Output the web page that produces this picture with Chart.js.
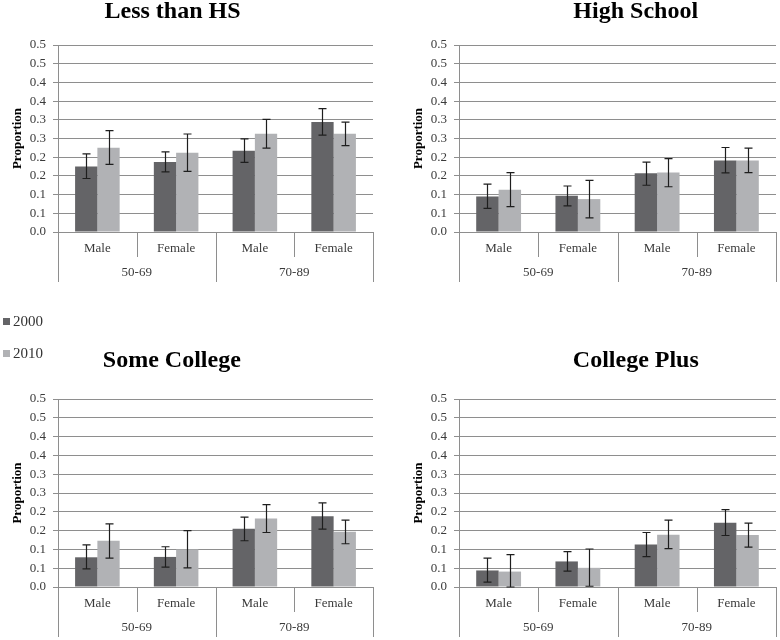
<!DOCTYPE html>
<html>
<head>
<meta charset="utf-8">
<title>Proportion by age group, sex and education</title>
<script src="https://cdn.jsdelivr.net/npm/chart.js@4.4.1/dist/chart.umd.min.js"></script>
<style>
    body { margin: 0; background: #fff; }
    .page { position: relative; width: 780px; height: 640px; overflow: hidden; }
    .page canvas { position: absolute; }
    .sw { position: absolute; width: 7px; height: 7px; }
    .key {
        position: absolute;
        font-family: 'Liberation Serif', 'Times New Roman', serif;
        font-size: 15px;
        line-height: 16px;
        color: #333;
    }
</style>
</head>
<body>
<div class="page" id="page">
    <canvas id="c1" width="390" height="300" style="left:0;top:0"></canvas>
    <canvas id="c2" width="379" height="300" style="left:401px;top:0"></canvas>
    <canvas id="c3" width="390" height="310" style="left:0;top:330px"></canvas>
    <canvas id="c4" width="379" height="310" style="left:401px;top:330px"></canvas>
</div>

<script>
    // ---- data ----
    var categories = ['Male', 'Female', 'Male', 'Female'];
    var ageGroups = ['50-69', '70-89'];
    var seriesNames = ['2000', '2010'];
    var titles = ['Less than HS', 'High School', 'Some College', 'College Plus'];
    var yTickLabels = ['0.0', '0.1', '0.1', '0.2', '0.2', '0.3', '0.3', '0.4', '0.4', '0.5', '0.5'];

    // Less than HS
    var lessHS2000   = [0.175, 0.187, 0.217, 0.294];
    var lessHS2000Lo = [0.143, 0.161, 0.186, 0.259];
    var lessHS2000Hi = [0.209, 0.214, 0.249, 0.330];
    var lessHS2010   = [0.225, 0.212, 0.263, 0.263];
    var lessHS2010Lo = [0.181, 0.162, 0.224, 0.231];
    var lessHS2010Hi = [0.271, 0.262, 0.301, 0.294];

    // High School
    var hs2000   = [0.095, 0.097, 0.157, 0.191];
    var hs2000Lo = [0.063, 0.070, 0.125, 0.158];
    var hs2000Hi = [0.128, 0.123, 0.187, 0.226];
    var hs2010   = [0.113, 0.088, 0.159, 0.191];
    var hs2010Lo = [0.068, 0.038, 0.121, 0.159];
    var hs2010Hi = [0.159, 0.138, 0.196, 0.224];

    // Some College
    var someCol2000   = [0.079, 0.080, 0.155, 0.188];
    var someCol2000Lo = [0.048, 0.053, 0.123, 0.154];
    var someCol2000Hi = [0.112, 0.107, 0.186, 0.224];
    var someCol2010   = [0.123, 0.100, 0.182, 0.147];
    var someCol2010Lo = [0.077, 0.051, 0.145, 0.115];
    var someCol2010Hi = [0.168, 0.150, 0.219, 0.178];

    // College Plus
    var colPlus2000   = [0.044, 0.068, 0.113, 0.171];
    var colPlus2000Lo = [0.013, 0.042, 0.081, 0.137];
    var colPlus2000Hi = [0.077, 0.094, 0.145, 0.206];
    var colPlus2010   = [0.041, 0.051, 0.139, 0.138];
    var colPlus2010Lo = [0.000, 0.002, 0.102, 0.106];
    var colPlus2010Hi = [0.086, 0.101, 0.178, 0.170];

    // ---- style ----
    var FONT = "'Liberation Serif', 'Times New Roman', serif";
    var DARK = '#646467';
    var LIGHT = '#b1b2b5';
    var GRID = '#8e8e8e';
    var TEXT = '#3a3a3a';

    // error bars, drawn at each bar's x from the y scale
    var errorBars = {
        id: 'errorBars',
        afterDatasetsDraw: function(chart) {
            var ctx = chart.ctx;
            var y = chart.scales.y;
            chart.data.datasets.forEach(function(ds, i) {
                var meta = chart.getDatasetMeta(i);
                meta.data.forEach(function(bar, j) {
                    var top = y.getPixelForValue(ds.errHi[j]);
                    var bot = y.getPixelForValue(ds.errLo[j]);
                    var bx = Math.round(bar.x) + 0.5;
                    ctx.save();
                    ctx.strokeStyle = '#1e1e1e';
                    ctx.lineWidth = 1.2;
                    ctx.beginPath();
                    ctx.moveTo(bx, top); ctx.lineTo(bx, bot);
                    ctx.moveTo(bx - 4, top); ctx.lineTo(bx + 4, top);
                    ctx.moveTo(bx - 4, bot); ctx.lineTo(bx + 4, bot);
                    ctx.stroke();
                    ctx.restore();
                });
            });
        }
    };

    // second row of the x axis: separators and age group labels
    var groupAxis = {
        id: 'groupAxis',
        afterDraw: function(chart) {
            var ctx = chart.ctx;
            var x = chart.scales.x;
            var base = chart.chartArea.bottom;
            var step = x.getPixelForValue(1) - x.getPixelForValue(0);
            var first = x.getPixelForValue(0) - step / 2;
            ctx.save();
            ctx.strokeStyle = GRID;
            ctx.lineWidth = 1;
            for (var k = 0; k <= categories.length; k++) {
                var px = Math.round(first + k * step) + 0.5;
                var len = (k % 2 === 0) ? 50 : 25;
                ctx.beginPath();
                ctx.moveTo(px, base);
                ctx.lineTo(px, Math.min(base + len, chart.height));
                ctx.stroke();
            }
            ctx.fillStyle = TEXT;
            ctx.font = '13px ' + FONT;
            ctx.textAlign = 'center';
            ctx.textBaseline = 'middle';
            ageGroups.forEach(function(g, gi) {
                var cx = (x.getPixelForValue(gi * 2) + x.getPixelForValue(gi * 2 + 1)) / 2;
                ctx.fillText(g, cx, base + 41);
            });
            ctx.restore();
        }
    };

    // panel heading
    var panelTitle = {
        id: 'panelTitle',
        afterDraw: function(chart, args, opts) {
            var ctx = chart.ctx;
            ctx.save();
            ctx.font = 'bold 24px ' + FONT;
            ctx.fillStyle = '#000';
            ctx.textAlign = 'center';
            ctx.textBaseline = 'alphabetic';
            ctx.fillText(opts.text, opts.x, opts.y);
            ctx.restore();
        }
    };

    var panels = [
        { id: 'c1', title: titles[0], a: lessHS2000, aLo: lessHS2000Lo, aHi: lessHS2000Hi,
          b: lessHS2010, bLo: lessHS2010Lo, bHi: lessHS2010Hi,
          padTop: 45, padRight: 17, xHeight: 68, tx: 172.5, ty: 18.3 },
        { id: 'c2', title: titles[1], a: hs2000, aLo: hs2000Lo, aHi: hs2000Hi,
          b: hs2010, bLo: hs2010Lo, bHi: hs2010Hi,
          padTop: 45, padRight: 4, xHeight: 68, tx: 234.7, ty: 18.3 },
        { id: 'c3', title: titles[2], a: someCol2000, aLo: someCol2000Lo, aHi: someCol2000Hi,
          b: someCol2010, bLo: someCol2010Lo, bHi: someCol2010Hi,
          padTop: 69, padRight: 17, xHeight: 53, tx: 171.8, ty: 36.7 },
        { id: 'c4', title: titles[3], a: colPlus2000, aLo: colPlus2000Lo, aHi: colPlus2000Hi,
          b: colPlus2010, bLo: colPlus2010Lo, bHi: colPlus2010Hi,
          padTop: 69, padRight: 4, xHeight: 53, tx: 234.8, ty: 36.7 }
    ];

    panels.forEach(function(p) {
        var ctx = document.getElementById(p.id).getContext('2d');
        new Chart(ctx, {
            type: 'bar',
            data: {
                labels: categories,
                datasets: [{
                    label: seriesNames[0],
                    data: p.a,
                    errLo: p.aLo,
                    errHi: p.aHi,
                    backgroundColor: DARK,
                    borderWidth: 0
                }, {
                    label: seriesNames[1],
                    data: p.b,
                    errLo: p.bLo,
                    errHi: p.bHi,
                    backgroundColor: LIGHT,
                    borderWidth: 0
                }]
            },
            options: {
                responsive: false,
                animation: false,
                events: [],
                layout: { padding: { top: p.padTop, right: p.padRight, left: 0, bottom: 0 } },
                datasets: { bar: { categoryPercentage: 0.566, barPercentage: 1 } },
                plugins: {
                    legend: { display: false },
                    tooltip: { enabled: false },
                    panelTitle: { text: p.title, x: p.tx, y: p.ty }
                },
                scales: {
                    x: {
                        grid: { display: false, drawTicks: false },
                        border: { display: false },
                        ticks: { font: { family: FONT, size: 13 }, color: TEXT, padding: 9, maxRotation: 0, autoSkip: false },
                        afterFit: function(s) { s.height = p.xHeight; }
                    },
                    y: {
                        min: 0,
                        max: 0.5,
                        grid: { color: GRID, drawTicks: true, tickLength: 5 },
                        border: { display: true, color: GRID },
                        ticks: {
                            stepSize: 0.05,
                            padding: 7,
                            font: { family: FONT, size: 13 },
                            color: TEXT,
                            callback: function(v, i) { return yTickLabels[i]; }
                        },
                        title: {
                            display: true,
                            text: 'Proportion',
                            font: { family: FONT, size: 13, weight: 'bold' },
                            color: '#000',
                            padding: { top: 10, bottom: 0 }
                        },
                        afterFit: function(s) { s.width = 58; }
                    }
                }
            },
            plugins: [errorBars, groupAxis, panelTitle]
        });
    });

    // legend at the left, between the rows
    var page = document.getElementById('page');
    var keyColors = [DARK, LIGHT];
    var keyTops = [313, 345];
    seriesNames.forEach(function(name, i) {
        var sw = document.createElement('div');
        sw.className = 'sw';
        sw.style.left = '3px';
        sw.style.top = (keyTops[i] + 5) + 'px';
        sw.style.background = keyColors[i];
        page.appendChild(sw);
        var lab = document.createElement('div');
        lab.className = 'key';
        lab.style.left = '13px';
        lab.style.top = keyTops[i] + 'px';
        lab.textContent = name;
        page.appendChild(lab);
    });
</script>
</body>
</html>
